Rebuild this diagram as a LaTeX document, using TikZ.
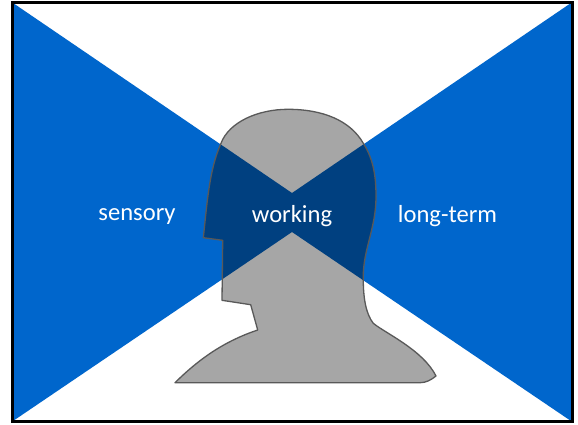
\documentclass[tikz,border=0pt]{standalone}
\usepackage{fontspec}
\setmainfont{Carlito}
\definecolor{bandblue}{HTML}{0066CC}
\definecolor{overlapblue}{HTML}{004080}
\definecolor{headgrey}{HTML}{A6A6A6}
\definecolor{headline}{HTML}{595959}
\tikzset{
  lbl/.style={text=white,font=\fontsize{24.6}{28}\selectfont,inner sep=0pt,anchor=center},
  headedge/.style={draw=headline,line width=1.3pt,line join=round}
}
\newcommand{\headpath}{(175,382.7)
  .. controls (200,358) and (225,341) .. (257.7,330)
  -- (250.7,304.7) -- (222,300.3) -- (222.7,240.3) -- (203.3,237.7)
  .. controls (207,205) and (209,170) .. (221,143.3)
  .. controls (229,122) and (258,109.3) .. (288,109.3)
  .. controls (322,109.3) and (350,120) .. (363.3,143.3)
  .. controls (374,160) and (376,178) .. (376,196.7)
  .. controls (376,228) and (363,250) .. (363.3,276.7)
  .. controls (363,298) and (366,314) .. (373.3,323.3)
  .. controls (385,333) and (423,350) .. (436,376)
  .. controls (431,380) and (426,382.7) .. (420,382.7)
  -- cycle}
\newcommand{\bandpath}{(13,3) -- (292,193) -- (571,3) -- (571,421) -- (292,232) -- (13,421) -- cycle}
\begin{document}
\begin{tikzpicture}[x=1pt,y=-1pt]
\useasboundingbox (0,0) rectangle (578,424);
\fill[white] (0,0) rectangle (578,424);
\fill[bandblue] \bandpath;
\fill[headgrey] \headpath;
\begin{scope}
  \clip \headpath;
  \fill[overlapblue] \bandpath;
\end{scope}
\draw[headedge] \headpath;
\draw[black,line width=3pt] (12.5,2.5) rectangle (572.5,421.5);
\node[lbl] (sensory) at (137,216.5) {sensory};
\node[lbl] (working) at (292,216.5) {working};
\node[lbl] (longterm) at (447.5,216.5) {long-term};
\end{tikzpicture}
\end{document}
